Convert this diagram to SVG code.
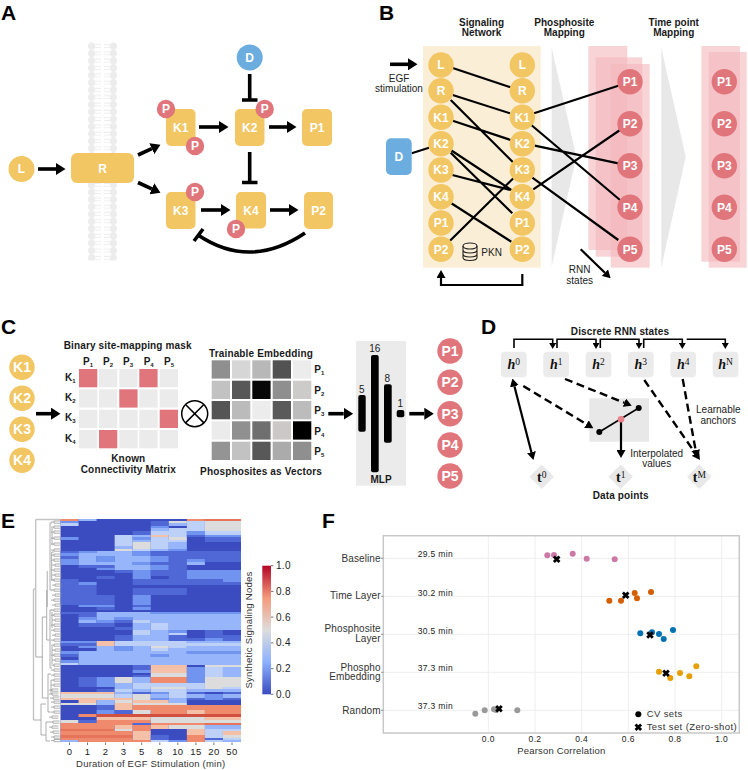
<svg xmlns="http://www.w3.org/2000/svg" width="748" height="770" viewBox="0 0 748 770">
<style>
text{font-family:"Liberation Sans",Arial,sans-serif;fill:#222}
.letter{font-size:21px;font-weight:700;fill:#000}
.y{fill:#f1c663}.b{fill:#6cade0}.r{fill:#e0767c}.g{fill:#ebebeb}
.nl{font-size:12px;font-weight:700;fill:#fff;text-anchor:middle}
.nb{font-size:14px;font-weight:700;fill:#fff;text-anchor:middle}
.t{font-size:10px;text-anchor:middle}
.tb{font-size:10px;font-weight:700;text-anchor:middle;fill:#1a1a1a}
.mh{font-size:10px;font-weight:700;fill:#1a1a1a}
.mh tspan{font-size:6px}
.hh{font-family:"Liberation Serif",serif;font-size:14px;font-weight:700;font-style:italic;fill:#111;text-anchor:middle}
.tt{font-family:"Liberation Serif",serif;font-size:14px;font-weight:700;fill:#111;text-anchor:middle}
.hh tspan,.tt tspan{font-size:9.5px;font-weight:400;font-style:normal}
.st{fill:#f3b8bc;fill-opacity:.6}
.c{fill:none;stroke:#000}
.a1{stroke-width:3.6}.a2{stroke-width:2.2}.a3{stroke-width:1.6}
.dash{stroke-dasharray:8 4.5;stroke-width:2.4}
.ax{font-size:9.5px;fill:#333;letter-spacing:.2px}
.tk{font-size:8.5px;fill:#555;text-anchor:middle;letter-spacing:.35px}
.yl{font-size:10px;fill:#333;text-anchor:end;letter-spacing:.1px}
.gr{stroke:#ececec;stroke-width:.9;fill:none}
.hA{fill:#3b4cc0}.hB{fill:#4f68d6}.hC{fill:#7194f0}.hD{fill:#96b5fb}.hE{fill:#bcd0f8}.hG{fill:#dcdcdc}.hO{fill:#f4c0a8}.hR{fill:#ef8a6c}.hS{fill:#e6745a}.hT{fill:#d2503f}
.dn{fill:none;stroke:#9a9a9a;stroke-width:.8}
.dk{fill:none;stroke:#c4c4c4;stroke-width:1.4}
</style>
<defs>
<marker id="ah" markerUnits="userSpaceOnUse" markerWidth="10" markerHeight="12" refX="0" refY="6" orient="auto"><path d="M0 0L9.5 6L0 12z"/></marker>
<marker id="as" markerUnits="userSpaceOnUse" markerWidth="8" markerHeight="9" refX="0" refY="4.5" orient="auto-start-reverse"><path d="M0 0L8 4.5L0 9z"/></marker>
<marker id="at" markerUnits="userSpaceOnUse" markerWidth="6" markerHeight="7" refX="0" refY="3.5" orient="auto"><path d="M0 0L6 3.5L0 7z"/></marker>
<pattern id="lipid" patternUnits="userSpaceOnUse" x="88" y="42.5" width="29" height="7.3">
<circle cx="3.6" cy="3.6" r="3.6" fill="#ececec"/><circle cx="25.4" cy="3.6" r="3.6" fill="#ececec"/>
<path d="M6 2.2H13M6 5H13M16 2.2H23M16 5H23" stroke="#eeeeee" stroke-width="1.1"/>
</pattern>
<linearGradient id="cw" x1="0" y1="1" x2="0" y2="0">
<stop offset="0" stop-color="#3b4cc0"/><stop offset=".25" stop-color="#8db0fe"/><stop offset=".5" stop-color="#dddcdc"/><stop offset=".75" stop-color="#f49a7b"/><stop offset="1" stop-color="#b40426"/>
</linearGradient>
<path id="lf" d="M-3 1.1H0M0 0H6.5M0 2.2H6.5M0 0V2.2" class="dn"/>
<path id="xm" d="M-2.8-2.8L2.8 2.8M-2.8 2.8L2.8-2.8" fill="none" stroke="#000" stroke-width="2.8"/>
</defs>

<rect width="748" height="770" fill="#fff"/>

<!-- section letters -->
<text class="letter" x="1" y="19.5">A</text>
<text class="letter" x="379" y="19.5">B</text>
<text class="letter" x="1" y="333.5">C</text>
<text class="letter" x="481" y="333.5">D</text>
<text class="letter" x="1" y="528">E</text>
<text class="letter" x="322" y="528">F</text>

<!-- cell membrane -->
<rect x="88" y="42.5" width="29" height="218" fill="url(#lipid)"/>

<!-- signaling network backdrops -->
<rect x="423" y="46" width="117.7" height="221.7" fill="#fbeed6"/>
<polygon points="551.7,47.7 576.3,156.7 551.7,266.7" fill="#e8e8e8"/>
<polygon points="661.3,47.7 685.7,156.7 661.3,267.7" fill="#e8e8e8"/>
<rect class="st" x="588.3" y="46" width="39" height="204"/>
<rect class="st" x="595.7" y="57.3" width="46.6" height="199.4"/>
<rect class="st" x="610.7" y="64" width="39" height="203.7"/>
<rect class="st" x="701.3" y="46" width="38.7" height="215.7"/>
<rect class="st" x="708.7" y="52" width="38" height="215.7"/>
<rect x="589.3" y="398.3" width="59.7" height="43.4" fill="#e8e8e8"/>
<rect x="356" y="341" width="50" height="144.7" fill="#ebebeb"/>

<!-- all connectors -->
<g id="connectors">
<g class="c a1">
<path d="M38 169H56" marker-end="url(#ah)"/>
<path d="M138 155L151.8 148.7" marker-end="url(#ah)"/>
<path d="M138 182.5L151.8 188.8" marker-end="url(#ah)"/>
<path d="M199 127H219" marker-end="url(#ah)"/>
<path d="M269 127H287" marker-end="url(#ah)"/>
<path d="M201 210H221" marker-end="url(#ah)"/>
<path d="M270 210H289" marker-end="url(#ah)"/>
<path d="M249.7 74V100M242 100H257.5"/>
<path d="M249.7 152V182.5M242 182.5H257.5"/>
<path d="M305 233Q250 270 198 235M194 241L203 229"/>
<path d="M390 64.3H408" marker-end="url(#ah)"/>
<path d="M36 413.7H51" marker-end="url(#ah)"/>
<path d="M328.3 413.7H343.7" marker-end="url(#ah)"/>
<path d="M409.3 413.7H424.3" marker-end="url(#ah)"/>
</g>
<g class="c a2">
<path d="M452.7 68L510.7 87.3M452.7 95L510 113.3M450.7 100L514 163.3M452.7 120.7L510.7 140M411.7 153.3L429 147.7M450.7 150L511.3 190M450.7 152.7L512.3 213.3M452.3 175L510 190M451.3 203.3L511.3 241.7M450 240.7L513.3 178.3"/>
<path d="M534 113.3L618.3 85.7M531.3 125L620 200M534.7 145.7L618.3 163.3M532.3 177.7L618.3 240M533.3 189.3L620 130"/>
<path d="M522.3 274V285H441V278" marker-end="url(#as)"/>
<path d="M580.7 249.3L604.9 272.7" marker-end="url(#as)"/>
<path d="M514.4 386.3L531.4 452.2" marker-start="url(#as)" marker-end="url(#as)"/>
<path d="M621 420V450" marker-end="url(#as)"/>
</g>
<g class="c dash">
<path d="M523.3 386L586.5 424.2" marker-end="url(#as)"/>
<path d="M565 379L624.3 402.7" marker-end="url(#as)"/>
<path d="M644.3 380L695.4 453.4" marker-end="url(#as)"/>
<path d="M682.7 379L695.6 450" marker-end="url(#as)"/>
</g>
<g class="c a3">
<path d="M514 348V339.3H552.7V343" marker-end="url(#at)"/>
<path d="M557 348V339.3H596V343" marker-end="url(#at)"/>
<path d="M600.3 348V339.3H639V343" marker-end="url(#at)"/>
<path d="M643.7 348V339.3H682.3V343" marker-end="url(#at)"/>
<path d="M686.7 339.3H725.3V343" marker-end="url(#at)"/>
<path d="M599.3 432L638.7 408"/>
</g>
</g>

<!-- pathway nodes -->
<g id="a-L"><circle class="y" cx="21.5" cy="169" r="13"/><text class="nl" x="21.5" y="173.2">L</text></g>
<g id="a-R"><rect class="y" x="71" y="153" width="63" height="30" rx="6"/><text class="nl" x="102.5" y="172.5">R</text></g>
<g id="a-K1"><rect class="y" x="166" y="109" width="29.5" height="37" rx="5"/><text class="nl" x="180.7" y="131.7">K1</text></g>
<g id="a-K2"><rect class="y" x="235" y="109" width="29.5" height="37" rx="5"/><text class="nl" x="249.7" y="131.7">K2</text></g>
<g id="a-P1"><rect class="y" x="302" y="109" width="30" height="37" rx="5"/><text class="nl" x="317" y="131.7">P1</text></g>
<g id="a-K3"><rect class="y" x="166" y="192" width="29.5" height="37" rx="5"/><text class="nl" x="180.7" y="214.7">K3</text></g>
<g id="a-K4"><rect class="y" x="236" y="192" width="30" height="36.5" rx="5"/><text class="nl" x="251" y="214.7">K4</text></g>
<g id="a-P2"><rect class="y" x="304" y="192" width="29" height="37" rx="5"/><text class="nl" x="318.5" y="214.7">P2</text></g>
<g id="a-D"><circle class="b" cx="249.7" cy="57.5" r="13"/><text class="nl" x="249.7" y="61.8">D</text></g>
<g id="a-p1"><circle class="r" cx="166" cy="109" r="9.2"/><text class="nl" x="166" y="113.2">P</text></g>
<g id="a-p2"><circle class="r" cx="195" cy="146" r="9.2"/><text class="nl" x="195" y="150.2">P</text></g>
<g id="a-p3"><circle class="r" cx="264.7" cy="109" r="9.2"/><text class="nl" x="264.7" y="113.2">P</text></g>
<g id="a-p4"><circle class="r" cx="195" cy="192" r="9.2"/><text class="nl" x="195" y="196.2">P</text></g>
<g id="a-p5"><circle class="r" cx="236" cy="229" r="9.2"/><text class="nl" x="236" y="233.2">P</text></g>

<!-- signaling network nodes -->
<text class="tb" x="481.5" y="25.5">Signaling</text><text class="tb" x="481.5" y="36">Network</text>
<text class="tb" x="564.3" y="25.5">Phosphosite</text><text class="tb" x="564.3" y="36">Mapping</text>
<text class="tb" x="673.7" y="25.5">Time point</text><text class="tb" x="673.7" y="36">Mapping</text>
<text class="t" x="399" y="81.7">EGF</text><text class="t" x="399" y="92">stimulation</text>
<g id="b-D"><rect class="b" x="386" y="138.3" width="25.7" height="36.7" rx="5"/><text class="nl" x="398.8" y="161">D</text></g>
<g id="b-l-L"><circle class="y" cx="441" cy="65" r="12.7"/><text class="nl" x="441" y="69.2">L</text></g>
<g id="b-l-R"><circle class="y" cx="441" cy="90.7" r="12.7"/><text class="nl" x="441" y="94.9">R</text></g>
<g id="b-l-K1"><circle class="y" cx="441" cy="117.3" r="12.7"/><text class="nl" x="441" y="121.5">K1</text></g>
<g id="b-l-K2"><circle class="y" cx="441" cy="143.7" r="12.7"/><text class="nl" x="441" y="147.9">K2</text></g>
<g id="b-l-K3"><circle class="y" cx="441" cy="170" r="12.7"/><text class="nl" x="441" y="174.2">K3</text></g>
<g id="b-l-K4"><circle class="y" cx="441" cy="196.7" r="12.7"/><text class="nl" x="441" y="200.9">K4</text></g>
<g id="b-l-P1"><circle class="y" cx="441" cy="223" r="12.7"/><text class="nl" x="441" y="227.2">P1</text></g>
<g id="b-l-P2"><circle class="y" cx="441" cy="249.3" r="12.7"/><text class="nl" x="441" y="253.5">P2</text></g>
<g id="b-r-L"><circle class="y" cx="522.3" cy="65" r="12.7"/><text class="nl" x="522.3" y="69.2">L</text></g>
<g id="b-r-R"><circle class="y" cx="522.3" cy="90.7" r="12.7"/><text class="nl" x="522.3" y="94.9">R</text></g>
<g id="b-r-K1"><circle class="y" cx="522.3" cy="117.3" r="12.7"/><text class="nl" x="522.3" y="121.5">K1</text></g>
<g id="b-r-K2"><circle class="y" cx="522.3" cy="143.7" r="12.7"/><text class="nl" x="522.3" y="147.9">K2</text></g>
<g id="b-r-K3"><circle class="y" cx="522.3" cy="170" r="12.7"/><text class="nl" x="522.3" y="174.2">K3</text></g>
<g id="b-r-K4"><circle class="y" cx="522.3" cy="196.7" r="12.7"/><text class="nl" x="522.3" y="200.9">K4</text></g>
<g id="b-r-P1"><circle class="y" cx="522.3" cy="223" r="12.7"/><text class="nl" x="522.3" y="227.2">P1</text></g>
<g id="b-r-P2"><circle class="y" cx="522.3" cy="249.3" r="12.7"/><text class="nl" x="522.3" y="253.5">P2</text></g>
<g id="b-m-P1"><circle class="r" cx="630" cy="81.7" r="12.7"/><text class="nl" x="630" y="85.9">P1</text></g>
<g id="b-m-P2"><circle class="r" cx="630" cy="123.7" r="12.7"/><text class="nl" x="630" y="127.9">P2</text></g>
<g id="b-m-P3"><circle class="r" cx="630" cy="165.7" r="12.7"/><text class="nl" x="630" y="169.9">P3</text></g>
<g id="b-m-P4"><circle class="r" cx="630" cy="207.3" r="12.7"/><text class="nl" x="630" y="211.5">P4</text></g>
<g id="b-m-P5"><circle class="r" cx="630" cy="249.3" r="12.7"/><text class="nl" x="630" y="253.5">P5</text></g>
<g id="b-t-P1"><circle class="r" cx="724.3" cy="81.7" r="12.7"/><text class="nl" x="724.3" y="85.9">P1</text></g>
<g id="b-t-P2"><circle class="r" cx="724.3" cy="123.7" r="12.7"/><text class="nl" x="724.3" y="127.9">P2</text></g>
<g id="b-t-P3"><circle class="r" cx="724.3" cy="165.7" r="12.7"/><text class="nl" x="724.3" y="169.9">P3</text></g>
<g id="b-t-P4"><circle class="r" cx="724.3" cy="207.3" r="12.7"/><text class="nl" x="724.3" y="211.5">P4</text></g>
<g id="b-t-P5"><circle class="r" cx="724.3" cy="249.3" r="12.7"/><text class="nl" x="724.3" y="253.5">P5</text></g>
<g id="pkn" fill="none" stroke="#222" stroke-width="1.1">
<ellipse cx="470" cy="246" rx="7" ry="3"/>
<path d="M463 246V257.5C463 261.5 477 261.5 477 257.5V246M463 250C463 254 477 254 477 250M463 254C463 258 477 258 477 254"/>
</g>
<text x="481.3" y="255.7" font-size="10">PKN</text>
<text class="t" x="579.7" y="273.3">RNN</text><text class="t" x="579.7" y="284.3">states</text>

<!-- mapping mask and embedding -->
<g id="c-in">
<g id="c-K1"><circle class="y" cx="22" cy="367.3" r="12.7"/><text class="nb" x="22" y="372.3">K1</text></g>
<g id="c-K2"><circle class="y" cx="22" cy="398.3" r="12.7"/><text class="nb" x="22" y="403.3">K2</text></g>
<g id="c-K3"><circle class="y" cx="22" cy="429.3" r="12.7"/><text class="nb" x="22" y="434.3">K3</text></g>
<g id="c-K4"><circle class="y" cx="22" cy="460.3" r="12.7"/><text class="nb" x="22" y="465.3">K4</text></g>
</g>
<g id="c-out">
<g id="c-P1"><circle class="r" cx="450" cy="351" r="12.7"/><text class="nb" x="450" y="356">P1</text></g>
<g id="c-P2"><circle class="r" cx="450" cy="382.3" r="12.7"/><text class="nb" x="450" y="387.3">P2</text></g>
<g id="c-P3"><circle class="r" cx="450" cy="413.7" r="12.7"/><text class="nb" x="450" y="418.7">P3</text></g>
<g id="c-P4"><circle class="r" cx="450" cy="445" r="12.7"/><text class="nb" x="450" y="450">P4</text></g>
<g id="c-P5"><circle class="r" cx="450" cy="476" r="12.7"/><text class="nb" x="450" y="481">P5</text></g>
</g>
<text class="tb" x="127.7" y="349.3" letter-spacing=".15">Binary site-mapping mask</text>
<g id="mask">
<rect class="r" x="79" y="369" width="18.3" height="18.3"/><rect class="g" x="99" y="369" width="18.3" height="18.3"/><rect class="g" x="119.3" y="369" width="18.3" height="18.3"/><rect class="r" x="139.3" y="369" width="18.3" height="18.3"/><rect class="g" x="159.7" y="369" width="18.3" height="18.3"/>
<rect class="g" x="79" y="389.3" width="18.3" height="18.3"/><rect class="g" x="99" y="389.3" width="18.3" height="18.3"/><rect class="r" x="119.3" y="389.3" width="18.3" height="18.3"/><rect class="g" x="139.3" y="389.3" width="18.3" height="18.3"/><rect class="g" x="159.7" y="389.3" width="18.3" height="18.3"/>
<rect class="g" x="79" y="409.7" width="18.3" height="18.3"/><rect class="g" x="99" y="409.7" width="18.3" height="18.3"/><rect class="g" x="119.3" y="409.7" width="18.3" height="18.3"/><rect class="g" x="139.3" y="409.7" width="18.3" height="18.3"/><rect class="r" x="159.7" y="409.7" width="18.3" height="18.3"/>
<rect class="g" x="79" y="430" width="18.3" height="18.3"/><rect class="r" x="99" y="430" width="18.3" height="18.3"/><rect class="g" x="119.3" y="430" width="18.3" height="18.3"/><rect class="g" x="139.3" y="430" width="18.3" height="18.3"/><rect class="g" x="159.7" y="430" width="18.3" height="18.3"/>
</g>
<text class="mh" x="83" y="365">P<tspan dy="2">1</tspan></text>
<text class="mh" x="103" y="365">P<tspan dy="2">2</tspan></text>
<text class="mh" x="123" y="365">P<tspan dy="2">3</tspan></text>
<text class="mh" x="143.7" y="365">P<tspan dy="2">4</tspan></text>
<text class="mh" x="164" y="365">P<tspan dy="2">5</tspan></text>
<text class="mh" x="65" y="381">K<tspan dy="2">1</tspan></text>
<text class="mh" x="65" y="401">K<tspan dy="2">2</tspan></text>
<text class="mh" x="65" y="421.3">K<tspan dy="2">3</tspan></text>
<text class="mh" x="65" y="441.7">K<tspan dy="2">4</tspan></text>
<text class="tb" x="128.3" y="461.7" letter-spacing=".15">Known</text>
<text class="tb" x="128.3" y="472.7" letter-spacing=".15">Connectivity Matrix</text>
<g id="otimes" fill="none" stroke="#000" stroke-width="1.5"><circle cx="194.7" cy="413.7" r="13"/><path d="M185.5 404.5L203.9 422.9M185.5 422.9L203.9 404.5"/></g>
<text class="tb" x="261" y="356.7" letter-spacing=".15">Trainable Embedding</text>
<g id="embedding">
<rect fill="#8f8f8f" x="211.7" y="360.3" width="18.3" height="18.3"/><rect fill="#d6d6d6" x="232" y="360.3" width="18.3" height="18.3"/><rect fill="#b8b8b8" x="252.3" y="360.3" width="18.3" height="18.3"/><rect fill="#525252" x="272.7" y="360.3" width="18.3" height="18.3"/><rect fill="#ececec" x="293" y="360.3" width="18.3" height="18.3"/>
<rect fill="#c2c2c2" x="211.7" y="380.7" width="18.3" height="18.3"/><rect fill="#585858" x="232" y="380.7" width="18.3" height="18.3"/><rect fill="#080808" x="252.3" y="380.7" width="18.3" height="18.3"/><rect fill="#8f8f8f" x="272.7" y="380.7" width="18.3" height="18.3"/><rect fill="#cdcaca" x="293" y="380.7" width="18.3" height="18.3"/>
<rect fill="#555555" x="211.7" y="401" width="18.3" height="18.3"/><rect fill="#bbbbbb" x="232" y="401" width="18.3" height="18.3"/><rect fill="#ececec" x="252.3" y="401" width="18.3" height="18.3"/><rect fill="#5a5a5a" x="272.7" y="401" width="18.3" height="18.3"/><rect fill="#bcbcbc" x="293" y="401" width="18.3" height="18.3"/>
<rect fill="#ebebeb" x="211.7" y="421.3" width="18.3" height="18.3"/><rect fill="#909090" x="232" y="421.3" width="18.3" height="18.3"/><rect fill="#6f6f6f" x="252.3" y="421.3" width="18.3" height="18.3"/><rect fill="#ccc8c8" x="272.7" y="421.3" width="18.3" height="18.3"/><rect fill="#000000" x="293" y="421.3" width="18.3" height="18.3"/>
<rect fill="#949494" x="211.7" y="441.7" width="18.3" height="18.3"/><rect fill="#c2c2c2" x="232" y="441.7" width="18.3" height="18.3"/><rect fill="#585858" x="252.3" y="441.7" width="18.3" height="18.3"/><rect fill="#ababab" x="272.7" y="441.7" width="18.3" height="18.3"/><rect fill="#8f8f8f" x="293" y="441.7" width="18.3" height="18.3"/>
</g>
<text class="mh" x="314.3" y="373.3">P<tspan dy="2">1</tspan></text>
<text class="mh" x="314.3" y="393.7">P<tspan dy="2">2</tspan></text>
<text class="mh" x="314.3" y="414">P<tspan dy="2">3</tspan></text>
<text class="mh" x="314.3" y="434.7">P<tspan dy="2">4</tspan></text>
<text class="mh" x="314.3" y="455">P<tspan dy="2">5</tspan></text>
<text class="tb" x="261" y="475" letter-spacing=".15">Phosphosites as Vectors</text>
<g id="mlp">
<rect x="358.3" y="395" width="7.4" height="36.7" rx="2"/>
<rect x="371" y="355" width="7.7" height="117.3" rx="2"/>
<rect x="384" y="384.3" width="7.7" height="58.4" rx="2"/>
<rect x="396.7" y="410" width="7.6" height="7.3" rx="2"/>
<text x="361.7" y="392.7" font-size="10" text-anchor="middle">5</text>
<text x="374.7" y="351.7" font-size="10" text-anchor="middle">16</text>
<text x="387.3" y="381.7" font-size="10" text-anchor="middle">8</text>
<text x="400.3" y="407" font-size="10" text-anchor="middle">1</text>
<text class="tb" x="381" y="482.7">MLP</text>
</g>

<!-- RNN states and interpolation -->
<text class="tb" x="620" y="335" letter-spacing=".15">Discrete RNN states</text>
<g id="h0"><rect class="g" x="501" y="351.7" width="25.7" height="25.6" rx="4"/><text class="hh" x="513.8" y="369.3">h<tspan dy="-4">0</tspan></text></g>
<g id="h1"><rect class="g" x="543.3" y="351.7" width="25.7" height="25.6" rx="4"/><text class="hh" x="556.2" y="369.3">h<tspan dy="-4">1</tspan></text></g>
<g id="h2"><rect class="g" x="585.7" y="351.7" width="25.7" height="25.6" rx="4"/><text class="hh" x="598.5" y="369.3">h<tspan dy="-4">2</tspan></text></g>
<g id="h3"><rect class="g" x="628" y="351.7" width="25.7" height="25.6" rx="4"/><text class="hh" x="640.8" y="369.3">h<tspan dy="-4">3</tspan></text></g>
<g id="h4"><rect class="g" x="670.3" y="351.7" width="25.7" height="25.6" rx="4"/><text class="hh" x="683.2" y="369.3">h<tspan dy="-4">4</tspan></text></g>
<g id="hN"><rect class="g" x="712.7" y="351.7" width="25.7" height="25.6" rx="4"/><text class="hh" x="725.5" y="369.3">h<tspan dy="-4">N</tspan></text></g>
<g id="interp"><circle cx="599.3" cy="432" r="3"/><circle cx="638.7" cy="408" r="3"/><circle cx="621" cy="419.3" r="3.3" fill="#e8818a"/></g>
<g id="t0"><polygon points="541.7,464.4 554,476.7 541.7,489 529.4,476.7" fill="#e8e8e8"/><text class="tt" x="541.7" y="481.5">t<tspan dy="-4">0</tspan></text></g>
<g id="t1"><polygon points="620.7,464.4 633,476.7 620.7,489 608.4,476.7" fill="#e8e8e8"/><text class="tt" x="620.7" y="481.5">t<tspan dy="-4">1</tspan></text></g>
<g id="tM"><polygon points="699.3,464.4 711.6,476.7 699.3,489 687,476.7" fill="#e8e8e8"/><text class="tt" x="699.3" y="481.5">t<tspan dy="-4">M</tspan></text></g>
<text class="t" x="718.3" y="413.3">Learnable</text><text class="t" x="718.3" y="424">anchors</text>
<text class="t" x="656.7" y="456.7">Interpolated</text><text class="t" x="656.7" y="467.3">values</text>
<text class="tb" x="620.7" y="498.7" letter-spacing=".15">Data points</text>

<!-- clustered heat map: columns are one unit wide, rows in pixels -->
<g id="heat" transform="translate(60.5 0) scale(18.05 1)">
<rect class="hA" x="0" y="519" width="10" height="223"/>
<rect class="hR" x="0" y="519" width="1" height="2"/><rect class="hD" x="1" y="519" width="1" height="2"/><rect class="hR" x="7" y="519" width="1" height="2"/><rect class="hS" x="8" y="519" width="2" height="2"/>
<rect class="hC" x="0" y="521" width="1" height="2"/><rect class="hB" x="5" y="521" width="1" height="2"/><rect class="hG" x="6" y="521" width="1" height="2"/><rect class="hE" x="7" y="521" width="1" height="2"/><rect class="hG" x="8" y="521" width="2" height="2"/>
<rect class="hE" x="0" y="523" width="1" height="3"/><rect class="hB" x="5" y="523" width="1" height="3"/><rect class="hD" x="6" y="523" width="1" height="3"/><rect class="hE" x="7" y="523" width="1" height="3"/><rect class="hG" x="8" y="523" width="2" height="3"/>
<rect class="hC" x="5" y="526" width="1" height="2"/><rect class="hE" x="7" y="526" width="1" height="2"/><rect class="hG" x="8" y="526" width="2" height="2"/>
<rect class="hD" x="5" y="528" width="1" height="3"/><rect class="hE" x="6" y="528" width="2" height="3"/><rect class="hG" x="8" y="528" width="2" height="3"/>
<rect class="hB" x="4" y="531" width="1" height="4"/><rect class="hE" x="5" y="531" width="2" height="4"/><rect class="hC" x="7" y="531" width="1" height="4"/><rect class="hE" x="8" y="531" width="2" height="4"/>
<rect class="hE" x="3" y="535" width="1" height="2"/><rect class="hD" x="4" y="535" width="1" height="2"/><rect class="hO" x="5" y="535" width="1" height="2"/><rect class="hE" x="6" y="535" width="1" height="2"/><rect class="hB" x="7" y="535" width="1" height="2"/><rect class="hC" x="8" y="535" width="2" height="2"/>
<rect class="hC" x="0" y="537" width="1" height="3"/><rect class="hE" x="3" y="537" width="1" height="3"/><rect class="hC" x="4" y="537" width="1" height="3"/><rect class="hE" x="5" y="537" width="1" height="3"/><rect class="hG" x="6" y="537" width="1" height="3"/><rect class="hB" x="8" y="537" width="2" height="3"/>
<rect class="hE" x="3" y="540" width="1" height="2"/><rect class="hD" x="4" y="540" width="1" height="2"/><rect class="hE" x="5" y="540" width="2" height="2"/><rect class="hB" x="8" y="540" width="2" height="2"/>
<rect class="hE" x="3" y="542" width="1" height="4"/><rect class="hG" x="4" y="542" width="1" height="4"/><rect class="hE" x="5" y="542" width="1" height="4"/><rect class="hD" x="6" y="542" width="1" height="4"/>
<rect class="hD" x="3" y="546" width="1" height="3"/><rect class="hG" x="4" y="546" width="1" height="3"/><rect class="hE" x="5" y="546" width="1" height="3"/><rect class="hD" x="6" y="546" width="1" height="3"/>
<rect class="hG" x="3" y="549" width="1" height="2"/><rect class="hE" x="4" y="549" width="1" height="2"/><rect class="hD" x="5" y="549" width="1" height="2"/><rect class="hC" x="6" y="549" width="1" height="2"/>
<rect class="hB" x="0" y="551" width="1" height="2"/><rect class="hC" x="1" y="551" width="1" height="2"/><rect class="hD" x="2" y="551" width="2" height="2"/><rect class="hC" x="4" y="551" width="1" height="2"/><rect class="hB" x="5" y="551" width="5" height="2"/>
<rect class="hC" x="0" y="553" width="1" height="3"/><rect class="hD" x="1" y="553" width="3" height="3"/><rect class="hC" x="4" y="553" width="1" height="3"/><rect class="hB" x="5" y="553" width="5" height="3"/>
<rect class="hB" x="0" y="556" width="1" height="3"/><rect class="hD" x="1" y="556" width="1" height="3"/><rect class="hC" x="2" y="556" width="1" height="3"/><rect class="hD" x="3" y="556" width="2" height="3"/><rect class="hC" x="5" y="556" width="1" height="3"/><rect class="hB" x="6" y="556" width="4" height="3"/>
<rect class="hC" x="0" y="559" width="1" height="3"/><rect class="hD" x="1" y="559" width="1" height="3"/><rect class="hC" x="2" y="559" width="1" height="3"/><rect class="hD" x="3" y="559" width="2" height="3"/><rect class="hC" x="5" y="559" width="1" height="3"/><rect class="hB" x="6" y="559" width="1" height="3"/><rect class="hC" x="7" y="559" width="1" height="3"/><rect class="hB" x="8" y="559" width="2" height="3"/>
<rect class="hC" x="0" y="562" width="1" height="3"/><rect class="hD" x="1" y="562" width="3" height="3"/><rect class="hC" x="4" y="562" width="1" height="3"/><rect class="hB" x="5" y="562" width="2" height="3"/><rect class="hD" x="7" y="562" width="1" height="3"/>
<rect class="hB" x="1" y="565" width="2" height="3"/><rect class="hD" x="3" y="565" width="2" height="3"/><rect class="hC" x="5" y="565" width="1" height="3"/><rect class="hB" x="6" y="565" width="1" height="3"/>
<rect class="hC" x="2" y="568" width="1" height="2"/><rect class="hD" x="3" y="568" width="2" height="2"/><rect class="hC" x="5" y="568" width="1" height="2"/><rect class="hB" x="6" y="568" width="1" height="2"/>
<rect class="hB" x="3" y="570" width="1" height="3"/><rect class="hC" x="4" y="570" width="1" height="3"/><rect class="hB" x="5" y="570" width="2" height="3"/><rect class="hC" x="7" y="570" width="3" height="3"/>
<rect class="hC" x="4" y="573" width="1" height="3"/><rect class="hB" x="5" y="573" width="2" height="3"/><rect class="hC" x="7" y="573" width="3" height="3"/>
<rect class="hB" x="2" y="576" width="1" height="3"/><rect class="hC" x="4" y="576" width="1" height="3"/><rect class="hB" x="6" y="576" width="1" height="3"/><rect class="hC" x="7" y="576" width="3" height="3"/>
<rect class="hB" x="0" y="579" width="1" height="3"/><rect class="hB" x="4" y="579" width="5" height="3"/><rect class="hC" x="9" y="579" width="1" height="3"/>
<rect class="hB" x="0" y="582" width="1" height="3"/><rect class="hC" x="1" y="582" width="1" height="3"/><rect class="hB" x="4" y="582" width="6" height="3"/>
<rect class="hB" x="0" y="585" width="2" height="3"/>
<rect class="hB" x="0" y="588" width="2" height="3"/><rect class="hB" x="4" y="588" width="3" height="3"/>
<rect class="hB" x="0" y="591" width="2" height="4"/><rect class="hB" x="4" y="591" width="3" height="4"/>
<rect class="hB" x="0" y="595" width="3" height="10"/><rect class="hC" x="4" y="595" width="1" height="10"/>
<rect class="hC" x="1" y="605" width="2" height="2"/><rect class="hB" x="4" y="605" width="1" height="2"/>
<rect class="hB" x="2" y="607" width="1" height="3"/><rect class="hC" x="4" y="607" width="1" height="3"/>
<rect class="hB" x="0" y="612" width="2" height="2"/><rect class="hD" x="2" y="612" width="3" height="2"/><rect class="hC" x="5" y="612" width="5" height="2"/>
<rect class="hB" x="1" y="614" width="1" height="3"/><rect class="hD" x="2" y="614" width="8" height="3"/>
<rect class="hC" x="1" y="617" width="1" height="3"/><rect class="hD" x="2" y="617" width="1" height="3"/><rect class="hC" x="3" y="617" width="1" height="3"/><rect class="hD" x="4" y="617" width="6" height="3"/>
<rect class="hD" x="1" y="620" width="1" height="3"/><rect class="hC" x="2" y="620" width="1" height="3"/><rect class="hB" x="3" y="620" width="1" height="3"/><rect class="hE" x="4" y="620" width="1" height="3"/><rect class="hD" x="5" y="620" width="5" height="3"/>
<rect class="hB" x="1" y="623" width="2" height="4"/><rect class="hD" x="4" y="623" width="1" height="4"/><rect class="hE" x="5" y="623" width="1" height="4"/><rect class="hD" x="6" y="623" width="4" height="4"/>
<rect class="hB" x="3" y="627" width="1" height="3"/><rect class="hD" x="4" y="627" width="1" height="3"/><rect class="hE" x="5" y="627" width="1" height="3"/><rect class="hD" x="6" y="627" width="4" height="3"/>
<rect class="hE" x="4" y="630" width="1" height="3"/><rect class="hD" x="5" y="630" width="1" height="3"/><rect class="hC" x="6" y="630" width="1" height="3"/><rect class="hB" x="8" y="630" width="1" height="3"/>
<rect class="hE" x="4" y="633" width="1" height="2"/><rect class="hD" x="5" y="633" width="1" height="2"/><rect class="hE" x="6" y="633" width="1" height="2"/><rect class="hB" x="8" y="633" width="1" height="2"/>
<rect class="hB" x="3" y="635" width="1" height="3"/><rect class="hD" x="4" y="635" width="2" height="3"/><rect class="hB" x="6" y="635" width="1" height="3"/><rect class="hB" x="8" y="635" width="2" height="3"/>
<rect class="hB" x="3" y="638" width="1" height="3"/><rect class="hD" x="4" y="638" width="2" height="3"/><rect class="hB" x="6" y="638" width="2" height="3"/><rect class="hC" x="8" y="638" width="1" height="3"/><rect class="hB" x="9" y="638" width="1" height="3"/>
<rect class="hC" x="0" y="641" width="2" height="2"/><rect class="hO" x="2" y="641" width="1" height="2"/><rect class="hE" x="3" y="641" width="4" height="2"/><rect class="hD" x="7" y="641" width="3" height="2"/>
<rect class="hB" x="0" y="643" width="2" height="3"/><rect class="hO" x="2" y="643" width="1" height="3"/><rect class="hE" x="3" y="643" width="7" height="3"/>
<rect class="hC" x="1" y="646" width="1" height="2"/><rect class="hD" x="2" y="646" width="1" height="2"/><rect class="hC" x="3" y="646" width="1" height="2"/><rect class="hD" x="4" y="646" width="1" height="2"/><rect class="hG" x="5" y="646" width="1" height="2"/><rect class="hE" x="6" y="646" width="1" height="2"/><rect class="hD" x="7" y="646" width="3" height="2"/>
<rect class="hD" x="2" y="648" width="1" height="3"/><rect class="hC" x="3" y="648" width="1" height="3"/><rect class="hD" x="4" y="648" width="1" height="3"/><rect class="hE" x="5" y="648" width="1" height="3"/><rect class="hD" x="6" y="648" width="4" height="3"/>
<rect class="hC" x="0" y="651" width="1" height="3"/><rect class="hD" x="1" y="651" width="6" height="3"/><rect class="hC" x="7" y="651" width="3" height="3"/>
<rect class="hB" x="0" y="654" width="1" height="3"/><rect class="hD" x="1" y="654" width="4" height="3"/><rect class="hC" x="5" y="654" width="1" height="3"/><rect class="hD" x="6" y="654" width="4" height="3"/>
<rect class="hD" x="1" y="657" width="9" height="3"/>
<rect class="hC" x="0" y="660" width="1" height="3"/><rect class="hD" x="1" y="660" width="9" height="3"/>
<rect class="hE" x="0" y="663" width="1" height="2"/><rect class="hD" x="1" y="663" width="9" height="2"/>
<rect class="hB" x="4" y="665" width="1" height="2"/><rect class="hO" x="5" y="665" width="2" height="2"/><rect class="hG" x="8" y="665" width="2" height="2"/>
<rect class="hB" x="4" y="667" width="1" height="3"/><rect class="hO" x="5" y="667" width="2" height="3"/><rect class="hC" x="7" y="667" width="1" height="3"/><rect class="hE" x="8" y="667" width="1" height="3"/><rect class="hD" x="9" y="667" width="1" height="3"/>
<rect class="hC" x="4" y="670" width="1" height="3"/><rect class="hO" x="5" y="670" width="2" height="3"/><rect class="hC" x="7" y="670" width="1" height="3"/><rect class="hE" x="8" y="670" width="1" height="3"/><rect class="hD" x="9" y="670" width="1" height="3"/>
<rect class="hG" x="5" y="673" width="2" height="2"/><rect class="hC" x="7" y="673" width="1" height="2"/><rect class="hE" x="8" y="673" width="1" height="2"/><rect class="hD" x="9" y="673" width="1" height="2"/>
<rect class="hB" x="4" y="675" width="1" height="2"/><rect class="hG" x="5" y="675" width="2" height="2"/><rect class="hC" x="7" y="675" width="1" height="2"/><rect class="hE" x="8" y="675" width="1" height="2"/><rect class="hD" x="9" y="675" width="1" height="2"/>
<rect class="hB" x="1" y="677" width="1" height="6"/><rect class="hC" x="2" y="677" width="1" height="6"/><rect class="hG" x="3" y="677" width="1" height="6"/><rect class="hD" x="4" y="677" width="1" height="6"/><rect class="hR" x="5" y="677" width="2" height="6"/><rect class="hC" x="7" y="677" width="1" height="6"/><rect class="hG" x="8" y="677" width="2" height="6"/>
<rect class="hB" x="1" y="683" width="1" height="4"/><rect class="hC" x="2" y="683" width="1" height="4"/><rect class="hD" x="3" y="683" width="1" height="4"/><rect class="hE" x="4" y="683" width="4" height="4"/><rect class="hG" x="8" y="683" width="2" height="4"/>
<rect class="hD" x="3" y="687" width="1" height="2"/><rect class="hE" x="4" y="687" width="1" height="2"/><rect class="hG" x="5" y="687" width="2" height="2"/><rect class="hE" x="7" y="687" width="1" height="2"/><rect class="hG" x="8" y="687" width="1" height="2"/><rect class="hE" x="9" y="687" width="1" height="2"/>
<rect class="hB" x="2" y="689" width="1" height="3"/><rect class="hE" x="3" y="689" width="1" height="3"/><rect class="hD" x="4" y="689" width="1" height="3"/><rect class="hE" x="5" y="689" width="2" height="3"/><rect class="hD" x="7" y="689" width="3" height="3"/>
<rect class="hO" x="0" y="692" width="3" height="2"/><rect class="hD" x="3" y="692" width="1" height="2"/><rect class="hB" x="4" y="692" width="1" height="2"/><rect class="hC" x="5" y="692" width="1" height="2"/><rect class="hE" x="6" y="692" width="1" height="2"/><rect class="hB" x="7" y="692" width="1" height="2"/><rect class="hB" x="9" y="692" width="1" height="2"/>
<rect class="hG" x="0" y="694" width="3" height="4"/><rect class="hE" x="3" y="694" width="1" height="4"/><rect class="hG" x="4" y="694" width="1" height="4"/><rect class="hD" x="5" y="694" width="1" height="4"/><rect class="hE" x="6" y="694" width="1" height="4"/><rect class="hD" x="7" y="694" width="1" height="4"/><rect class="hC" x="8" y="694" width="1" height="4"/><rect class="hD" x="9" y="694" width="1" height="4"/>
<rect class="hO" x="0" y="698" width="4" height="2"/><rect class="hG" x="4" y="698" width="1" height="2"/><rect class="hC" x="5" y="698" width="1" height="2"/><rect class="hD" x="6" y="698" width="1" height="2"/><rect class="hB" x="7" y="698" width="1" height="2"/><rect class="hC" x="8" y="698" width="1" height="2"/><rect class="hB" x="9" y="698" width="1" height="2"/>
<rect class="hO" x="1" y="700" width="1" height="3"/><rect class="hD" x="2" y="700" width="1" height="3"/><rect class="hG" x="3" y="700" width="1" height="3"/><rect class="hO" x="4" y="700" width="2" height="3"/><rect class="hD" x="6" y="700" width="1" height="3"/>
<rect class="hG" x="0" y="703" width="2" height="2"/><rect class="hD" x="2" y="703" width="1" height="2"/><rect class="hO" x="3" y="703" width="1" height="2"/><rect class="hG" x="4" y="703" width="3" height="2"/>
<rect class="hB" x="2" y="705" width="1" height="5"/><rect class="hO" x="3" y="705" width="1" height="5"/><rect class="hR" x="4" y="705" width="6" height="5"/>
<rect class="hC" x="2" y="710" width="1" height="4"/><rect class="hB" x="3" y="710" width="1" height="4"/><rect class="hG" x="4" y="710" width="1" height="4"/><rect class="hR" x="5" y="710" width="2" height="4"/><rect class="hO" x="7" y="710" width="1" height="4"/><rect class="hR" x="8" y="710" width="2" height="4"/>
<rect class="hR" x="1" y="714" width="1" height="3"/><rect class="hT" x="2" y="714" width="8" height="3"/>
<rect class="hO" x="2" y="717" width="3" height="3"/><rect class="hG" x="5" y="717" width="3" height="3"/><rect class="hO" x="8" y="717" width="2" height="3"/>
<rect class="hG" x="0" y="720" width="1" height="3"/><rect class="hB" x="1" y="720" width="1" height="3"/><rect class="hR" x="2" y="720" width="3" height="3"/><rect class="hG" x="5" y="720" width="5" height="3"/>
<rect class="hR" x="0" y="723" width="4" height="2"/><rect class="hB" x="4" y="723" width="1" height="2"/><rect class="hR" x="5" y="723" width="3" height="2"/><rect class="hS" x="8" y="723" width="2" height="2"/>
<rect class="hR" x="0" y="725" width="3" height="4"/><rect class="hO" x="3" y="725" width="1" height="4"/><rect class="hR" x="4" y="725" width="1" height="4"/><rect class="hO" x="5" y="725" width="1" height="4"/><rect class="hG" x="6" y="725" width="2" height="4"/><rect class="hD" x="8" y="725" width="2" height="4"/>
<rect class="hS" x="0" y="729" width="3" height="2"/><rect class="hG" x="3" y="729" width="1" height="2"/><rect class="hR" x="4" y="729" width="1" height="2"/><rect class="hO" x="7" y="729" width="1" height="2"/><rect class="hE" x="8" y="729" width="2" height="2"/>
<rect class="hR" x="0" y="731" width="4" height="4"/><rect class="hO" x="4" y="731" width="1" height="4"/><rect class="hO" x="7" y="731" width="1" height="4"/><rect class="hE" x="8" y="731" width="1" height="4"/><rect class="hO" x="9" y="731" width="1" height="4"/>
<rect class="hS" x="0" y="735" width="4" height="3"/><rect class="hO" x="4" y="735" width="1" height="3"/><rect class="hB" x="5" y="735" width="1" height="3"/><rect class="hR" x="7" y="735" width="1" height="3"/><rect class="hE" x="8" y="735" width="1" height="3"/><rect class="hG" x="9" y="735" width="1" height="3"/>
<rect class="hR" x="0" y="738" width="4" height="2"/><rect class="hO" x="4" y="738" width="1" height="2"/><rect class="hB" x="5" y="738" width="1" height="2"/><rect class="hR" x="7" y="738" width="1" height="2"/><rect class="hB" x="8" y="738" width="1" height="2"/><rect class="hE" x="9" y="738" width="1" height="2"/>
<rect class="hD" x="0" y="740" width="1" height="2"/><rect class="hR" x="1" y="740" width="4" height="2"/><rect class="hE" x="5" y="740" width="1" height="2"/><rect class="hC" x="6" y="740" width="1" height="2"/><rect class="hR" x="7" y="740" width="1" height="2"/><rect class="hE" x="8" y="740" width="1" height="2"/><rect class="hD" x="9" y="740" width="1" height="2"/>
</g>
<!-- dendrogram -->
<g id="dendrogram">
<path class="dk" d="M33.5 589V720M33.5 589H35.7M35.7 519.5V657M35.7 519.5H60.5M35.7 657H42.3"/>
<path class="dk" d="M47.3 571V607"/>
<path class="dn" d="M42.3 617V698M42.3 617H46.7M46.7 590V640M46.7 640H50M50 523V590M50 523H52M50 590H51.7M51.7 552V580M51.7 552H54M51.7 580H54M50 610V668M50 610H52M50 668H52M42.3 698H48M48 674V712M48 674H51M48 712H51M33.5 720H41M41 704V735M41 704H46M41 735H46M46 722V741M46 722H50M46 741H50M52 528V545M52 612V628M52 646V664M51 680V694"/>
<use href="#lf" x="54" y="521"/><use href="#lf" x="54" y="526"/><use href="#lf" x="54" y="531"/><use href="#lf" x="54" y="537"/><use href="#lf" x="54" y="543"/><use href="#lf" x="54" y="549"/>
<use href="#lf" x="54" y="554"/><use href="#lf" x="54" y="559"/><use href="#lf" x="55" y="564"/><use href="#lf" x="54" y="569"/><use href="#lf" x="55" y="574"/><use href="#lf" x="54" y="579"/><use href="#lf" x="55" y="584"/><use href="#lf" x="54" y="589"/><use href="#lf" x="55" y="594"/><use href="#lf" x="54" y="599"/><use href="#lf" x="55" y="604"/>
<use href="#lf" x="54" y="609"/><use href="#lf" x="54" y="614"/><use href="#lf" x="55" y="619"/><use href="#lf" x="54" y="624"/><use href="#lf" x="54" y="629"/><use href="#lf" x="55" y="634"/><use href="#lf" x="54" y="639"/><use href="#lf" x="54" y="644"/><use href="#lf" x="55" y="649"/><use href="#lf" x="54" y="654"/><use href="#lf" x="55" y="659"/><use href="#lf" x="54" y="664"/>
<use href="#lf" x="54" y="669"/><use href="#lf" x="54" y="674"/><use href="#lf" x="54" y="679"/><use href="#lf" x="54" y="684"/><use href="#lf" x="52" y="689"/><use href="#lf" x="52" y="693"/><use href="#lf" x="53" y="697"/><use href="#lf" x="54" y="701"/><use href="#lf" x="54" y="706"/><use href="#lf" x="54" y="711"/><use href="#lf" x="52" y="716"/><use href="#lf" x="53" y="721"/><use href="#lf" x="52" y="726"/><use href="#lf" x="53" y="731"/><use href="#lf" x="54" y="736"/><use href="#lf" x="54" y="739.5"/>
</g>
<g id="heat-axis">
<path d="M69.5 742.5V745M87.5 742.5V745M105.6 742.5V745M123.6 742.5V745M141.7 742.5V745M159.8 742.5V745M177.8 742.5V745M195.9 742.5V745M213.9 742.5V745M232 742.5V745" stroke="#555" stroke-width=".8"/>
<g class="tk" style="font-size:9.5px;fill:#333">
<text x="69.5" y="755">0</text><text x="87.5" y="755">1</text><text x="105.6" y="755">2</text><text x="123.6" y="755">3</text><text x="141.7" y="755">5</text><text x="159.8" y="755">8</text><text x="177.8" y="755">10</text><text x="195.9" y="755">15</text><text x="213.9" y="755">20</text><text x="232" y="755">50</text>
</g>
<text class="ax" x="150.7" y="767" text-anchor="middle">Duration of EGF Stimulation (min)</text>
</g>
<g id="colorbar">
<rect x="262.3" y="565.7" width="8.7" height="128.6" fill="url(#cw)"/>
<path d="M271 565.7h2.5M271 591.4h2.5M271 617.1h2.5M271 642.9h2.5M271 668.6h2.5M271 694.3h2.5" stroke="#555" stroke-width=".8"/>
<g font-size="10" letter-spacing=".3">
<text x="276" y="569.2" fill="#333">1.0</text><text x="276" y="594.9" fill="#333">0.8</text><text x="276" y="620.6" fill="#333">0.6</text><text x="276" y="646.4" fill="#333">0.4</text><text x="276" y="672.1" fill="#333">0.2</text><text x="276" y="697.8" fill="#333">0.0</text>
</g>
<text class="ax" transform="translate(251.5 630) rotate(-90)" text-anchor="middle" style="font-size:9.6px">Synthetic Signaling Nodes</text>
</g>

<!-- model comparison -->
<g id="scatter">
<path class="gr" d="M488.3 535.7V733M535 535.7V733M581.6 535.7V733M628.3 535.7V733M675 535.7V733M721.7 535.7V733M383.3 558.3H739.3M383.3 596.3H739.3M383.3 634.3H739.3M383.3 672.3H739.3M383.3 710.3H739.3"/>
<rect x="383.3" y="535.7" width="356" height="197.3" fill="none" stroke="#c8c8c8" stroke-width="1.5"/>
<path d="M381 558.3h2.3M381 596.3h2.3M381 634.3h2.3M381 672.3h2.3M381 710.3h2.3" stroke="#777" stroke-width=".8"/>
<text class="yl" x="380.7" y="561.7">Baseline</text>
<text class="yl" x="380.7" y="599.3">Time Layer</text>
<text class="yl" x="380.7" y="632.2">Phosphosite</text><text class="yl" x="380.7" y="641.6">Layer</text>
<text class="yl" x="380.7" y="670.5">Phospho</text><text class="yl" x="380.7" y="679.9">Embedding</text>
<text class="yl" x="380.7" y="714">Random</text>
<g class="ax" style="font-size:8.5px;letter-spacing:.35px">
<text x="417.7" y="557">29.5 min</text><text x="417.7" y="595.7">30.2 min</text><text x="417.7" y="633.7">30.5 min</text><text x="417.7" y="671">37.3 min</text><text x="417.7" y="709">37.3 min</text>
</g>
<g fill="#cc79a7"><circle cx="547.3" cy="555.3" r="3"/><circle cx="554" cy="555" r="3"/><circle cx="572.7" cy="553.7" r="3"/><circle cx="586.7" cy="558.7" r="3"/><circle cx="614.7" cy="559.3" r="3"/></g>
<g fill="#d55e00"><circle cx="609.3" cy="600.7" r="3"/><circle cx="621" cy="600.7" r="3"/><circle cx="634.7" cy="593" r="3"/><circle cx="637" cy="598.3" r="3"/><circle cx="651" cy="592" r="3"/></g>
<g fill="#0072b2"><circle cx="640.3" cy="633.3" r="3"/><circle cx="652" cy="632.3" r="3"/><circle cx="659" cy="634" r="3"/><circle cx="663.7" cy="639" r="3"/><circle cx="673" cy="630" r="3"/></g>
<g fill="#e69f00"><circle cx="659" cy="671.7" r="3"/><circle cx="670.3" cy="678" r="3"/><circle cx="680" cy="673" r="3"/><circle cx="689.3" cy="676.3" r="3"/><circle cx="696.3" cy="666.3" r="3"/></g>
<g fill="#999999"><circle cx="475.3" cy="713.7" r="3"/><circle cx="484.7" cy="710.3" r="3"/><circle cx="494" cy="709.3" r="3"/><circle cx="496.3" cy="710" r="3"/><circle cx="517.3" cy="710.3" r="3"/></g>
<use href="#xm" x="556.7" y="559.3"/><use href="#xm" x="625.7" y="595.3"/><use href="#xm" x="650" y="635"/><use href="#xm" x="666" y="673.3"/><use href="#xm" x="499" y="708.7"/>
<circle cx="638.3" cy="714.3" r="3"/><use href="#xm" x="638.3" y="727.3"/>
<text class="ax" x="646.7" y="717.3" style="letter-spacing:.4px">CV sets</text>
<text class="ax" x="646.7" y="730" style="letter-spacing:.4px">Test set (Zero-shot)</text>
<g class="tk">
<text x="488.3" y="742.3">0.0</text><text x="535" y="742.3">0.2</text><text x="581.6" y="742.3">0.4</text><text x="628.3" y="742.3">0.6</text><text x="675" y="742.3">0.8</text><text x="721.7" y="742.3">1.0</text>
</g>
<text class="ax" x="561.3" y="754.3" text-anchor="middle">Pearson Correlation</text>
</g>
</svg>
